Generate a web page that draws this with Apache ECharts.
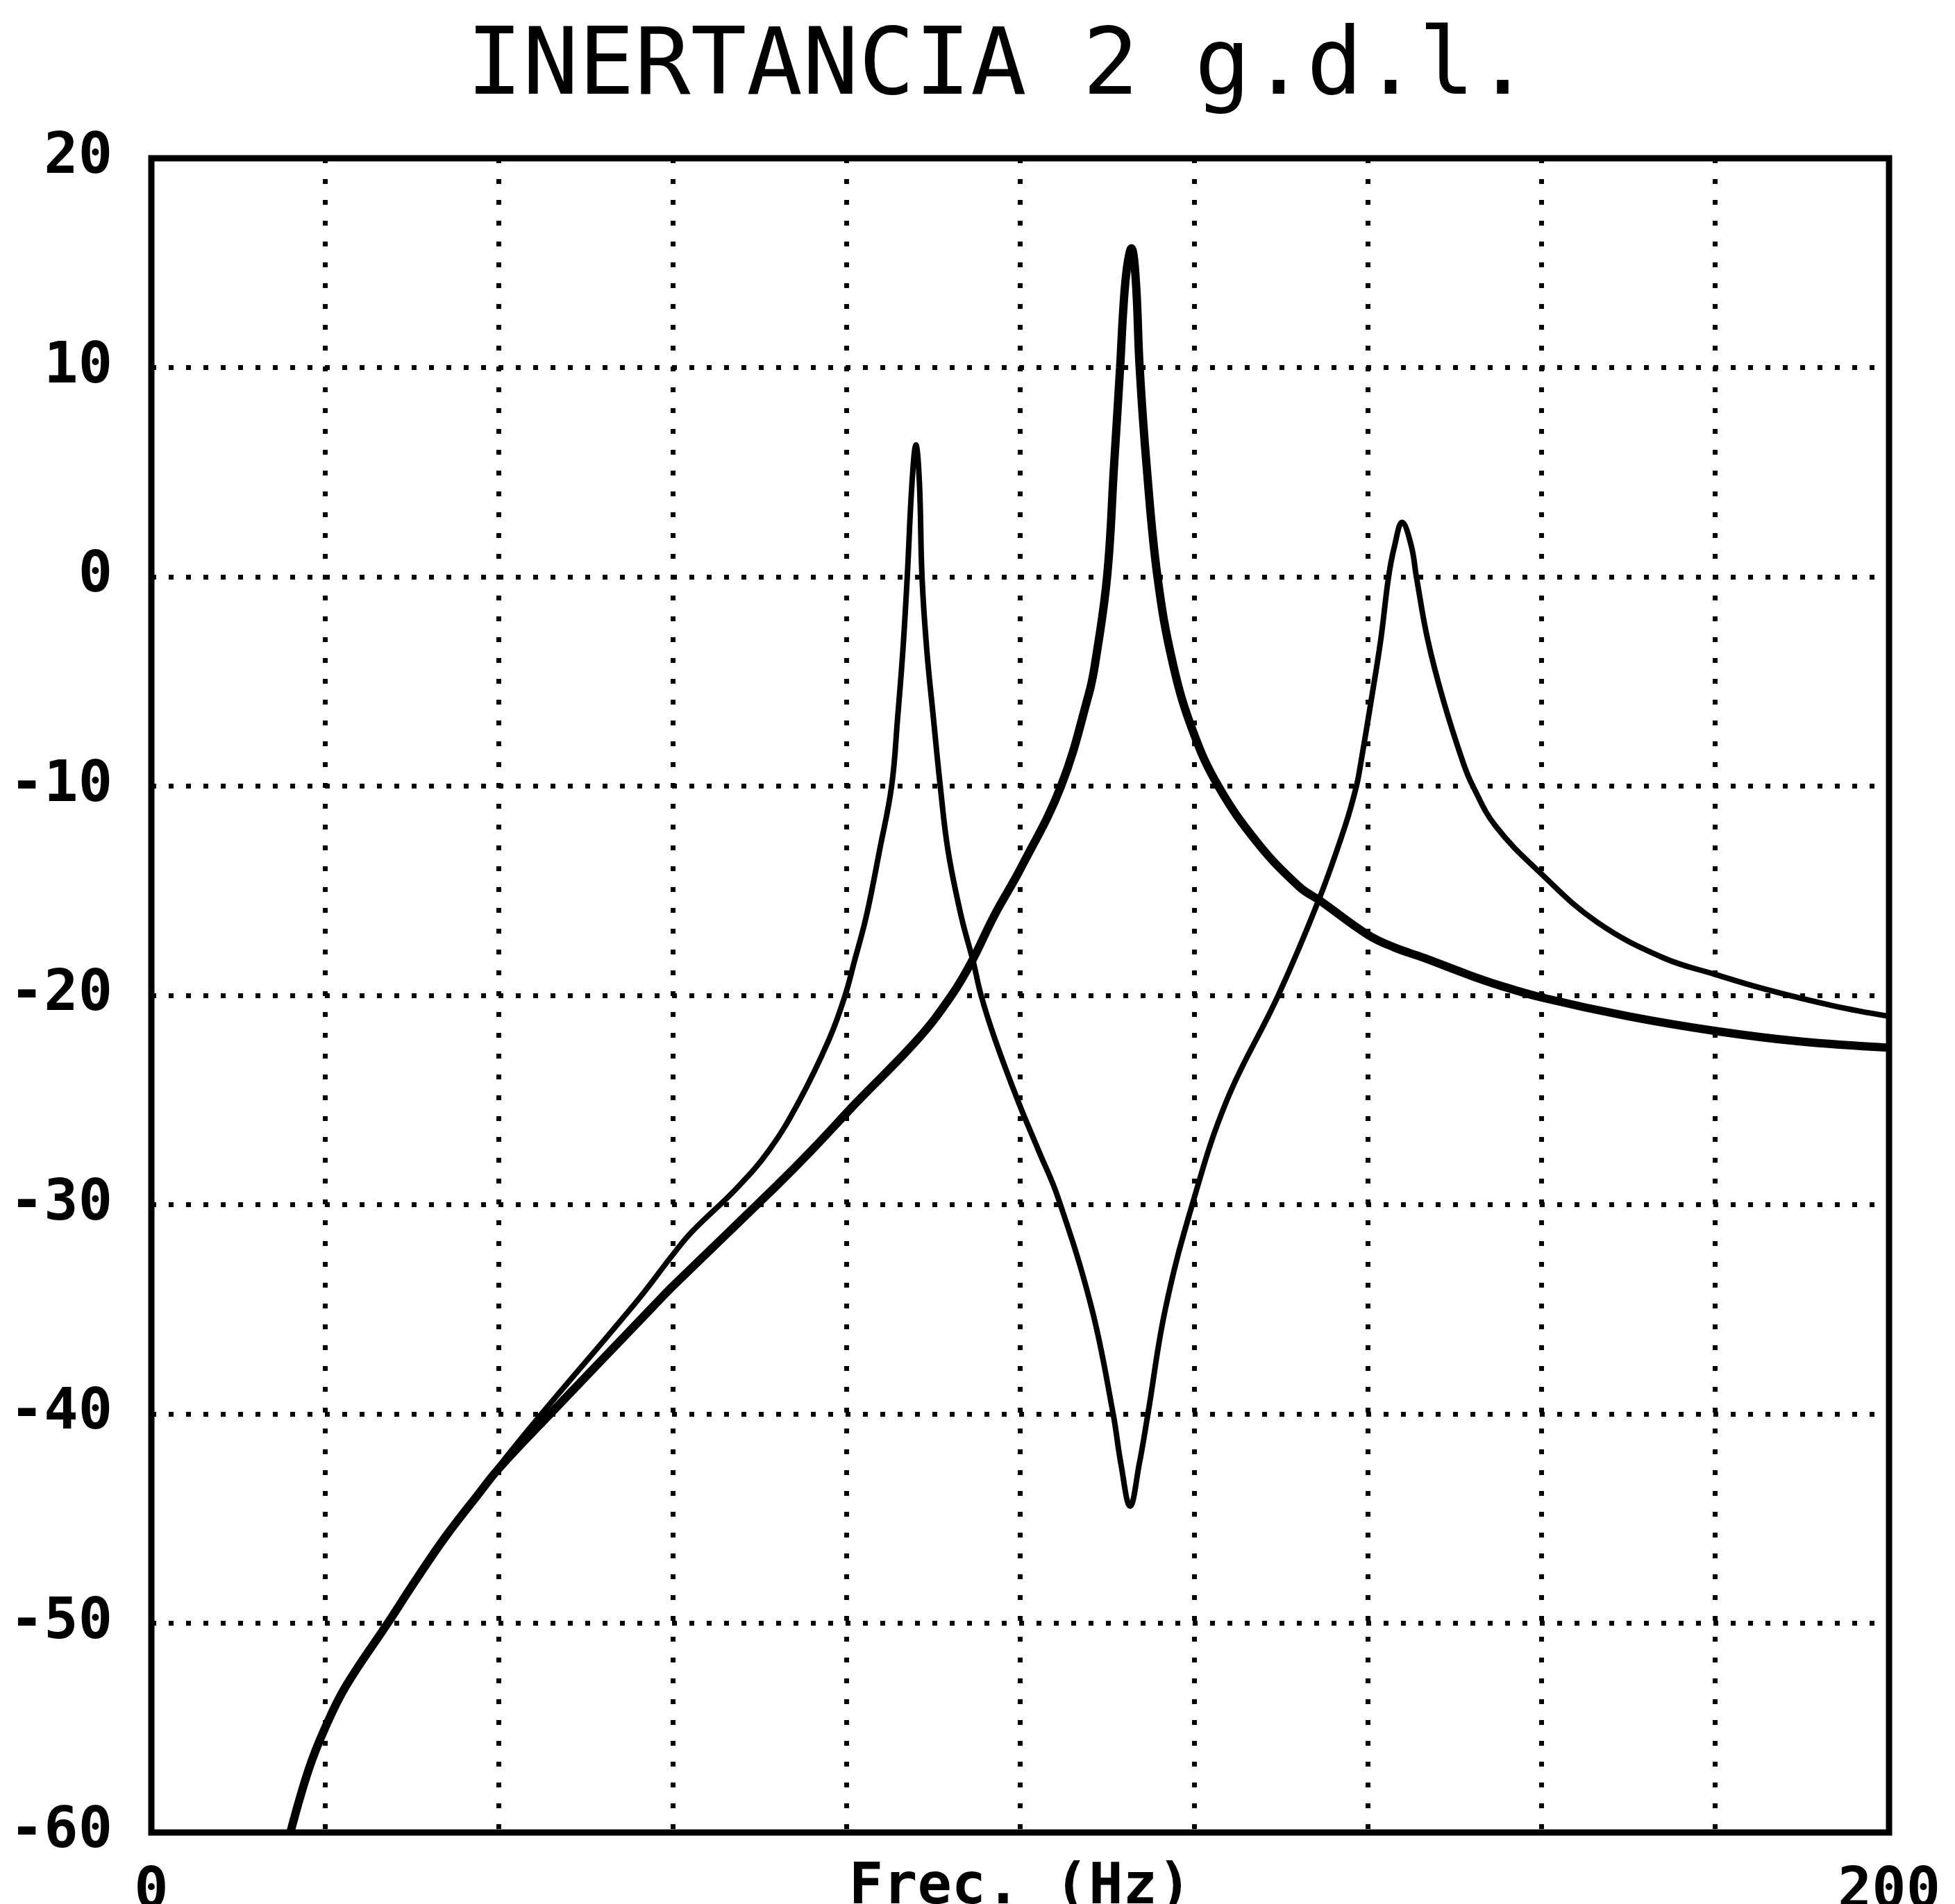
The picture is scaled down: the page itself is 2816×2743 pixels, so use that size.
<!DOCTYPE html>
<html>
<head>
<meta charset="utf-8">
<script src="https://cdn.jsdelivr.net/npm/echarts@6/dist/echarts.min.js"></script>
<style>
  html, body { margin: 0; padding: 0; background: #fff; }
  #main { width: 2816px; height: 2743px; }
</style>
</head>
<body>
<div id="main"></div>
<script>
    // frecuencias (Hz) y niveles (dB)
    var thickFreq = [16, 18.1, 20, 22.4, 27.2, 30.5, 33.8, 37.7, 40, 45.9, 57.9, 60, 71.7, 76, 81.2, 88.2,
        92.1, 94.4, 97, 100.1, 104.7, 107.9, 108.6, 110, 110.8, 111.5, 111.9, 112.3, 112.8, 113.3, 113.75,
        114.55, 115.8, 117.6, 119.9, 122.8, 127.3, 132.1, 134.6, 140, 143, 146.4, 151.5, 155, 160, 170,
        180, 189.7, 200];
    var thickDb = [-60, -57, -55, -53, -50, -47.9, -45.9, -43.8, -42.6, -40, -34.8, -33.9, -29.2, -27.4, -25.1, -22.1,
        -20, -18.4, -16.2, -13.9, -10, -5.6, -4.2, 0, 5.3, 10, 13, 14.8, 15.7, 14.2, 10,
        5.3, 0, -4.2, -7.4, -10, -12.7, -14.8, -15.5, -17.1, -17.7, -18.2, -19, -19.5, -20.1, -21,
        -21.7, -22.2, -22.5];

    var thinFreq = [16, 18.1, 20, 22.4, 27.2, 30.5, 33.8, 37.7, 40, 44.9, 55.9, 60, 62.2, 67.4, 71.1,
        74.5, 78, 79.85, 80.9, 82.3, 83.8, 85.2, 85.9, 86.5, 87.0, 87.55, 88.0, 88.4, 88.7, 89.25,
        90.0, 90.8, 91.7, 93.2, 94.6, 95.5, 97.1, 99.8, 102.1, 104.3, 108.2, 110.7, 111.6, 112.65,
        113.7, 114.7, 116.7, 119.8, 123.8, 129.7, 134.4, 137.4, 138.7, 139.2, 140.4, 141.5, 142.4,
        143.1, 143.95, 145, 145.6, 146.9, 148.7, 151, 152.1, 154.7, 160, 166.4, 174, 180, 185.7,
        193.6, 200];
    var thinDb = [-60, -57, -55, -53, -50, -47.9, -45.9, -43.8, -42.5, -40, -34.6, -32.4, -31.3, -29.2, -27.4,
        -25.1, -22.1, -20, -18.4, -16.2, -13.1, -10, -6.7, -3.5, 0, 4.5, 6.3, 4.5, 0, -3.5,
        -6.7, -10, -13.1, -16.2, -18.4, -20, -22.1, -25.1, -27.4, -29.6, -34.9, -40, -42.4, -44.4,
        -42.4, -40, -35, -30, -25, -20, -15.4, -11.9, -10, -8.9, -5.9, -3, 0,
        1.5, 2.6, 1.5, 0, -3, -5.9, -8.9, -10, -11.9, -14.2, -16.5, -18.2, -19, -19.7,
        -20.5, -21];

    var yTicks = [-60, -50, -40, -30, -20, -10, 0, 10, 20];

    function pairs(xs, ys) {
        var res = [];
        for (var i = 0; i < xs.length; i++) {
            res.push([xs[i], ys[i]]);
        }
        return res;
    }

    var labelFont = {
        fontFamily: 'DejaVu Sans Mono',
        fontWeight: 'bold',
        fontSize: 82,
        color: '#000'
    };

    var option = {
        backgroundColor: '#fff',
        animation: false,
        title: {
            text: 'INERTANCIA 2 g.d.l.',
            left: 667,
            top: 28,
            textStyle: {
                fontFamily: 'DejaVu Sans Mono',
                fontWeight: 'normal',
                fontSize: 134,
                color: '#000'
            }
        },
        grid: {
            left: 218,
            right: 95,
            top: 228,
            bottom: 103,
            outerBoundsMode: 'none',
            show: true,
            borderColor: '#000',
            borderWidth: 9
        },
        xAxis: {
            type: 'value',
            min: 0,
            max: 200,
            interval: 20,
            name: 'Frec. (Hz)',
            nameLocation: 'middle',
            nameGap: 40,
            nameMoveOverlap: false,
            nameTextStyle: Object.assign({ verticalAlign: 'top' }, labelFont),
            axisLine: { show: false },
            axisTick: { show: false },
            axisLabel: Object.assign({
                margin: 46,
                formatter: function (v) {
                    return (v === 0 || v === 200) ? String(v) : '';
                }
            }, labelFont),
            splitLine: {
                show: true,
                lineStyle: { color: '#000', width: 7, type: [7, 23] }
            }
        },
        yAxis: {
            type: 'value',
            min: yTicks[0],
            max: yTicks[yTicks.length - 1],
            interval: 10,
            axisLine: { show: false },
            axisTick: { show: false },
            axisLabel: Object.assign({ margin: 56 }, labelFont),
            splitLine: {
                show: true,
                lineStyle: { color: '#000', width: 7, type: [7, 18] }
            }
        },
        series: [
            {
                name: 'gruesa',
                type: 'line',
                data: pairs(thickFreq, thickDb),
                smooth: 0.4,
                symbol: 'none',
                clip: true,
                lineStyle: { color: '#000', width: 12 }
            },
            {
                name: 'fina',
                type: 'line',
                data: pairs(thinFreq, thinDb),
                smooth: 0.4,
                symbol: 'none',
                clip: true,
                lineStyle: { color: '#000', width: 8 }
            }
        ]
    };

    var myChart = echarts.init(document.getElementById('main'));
    myChart.setOption(option);
</script>
</body>
</html>
